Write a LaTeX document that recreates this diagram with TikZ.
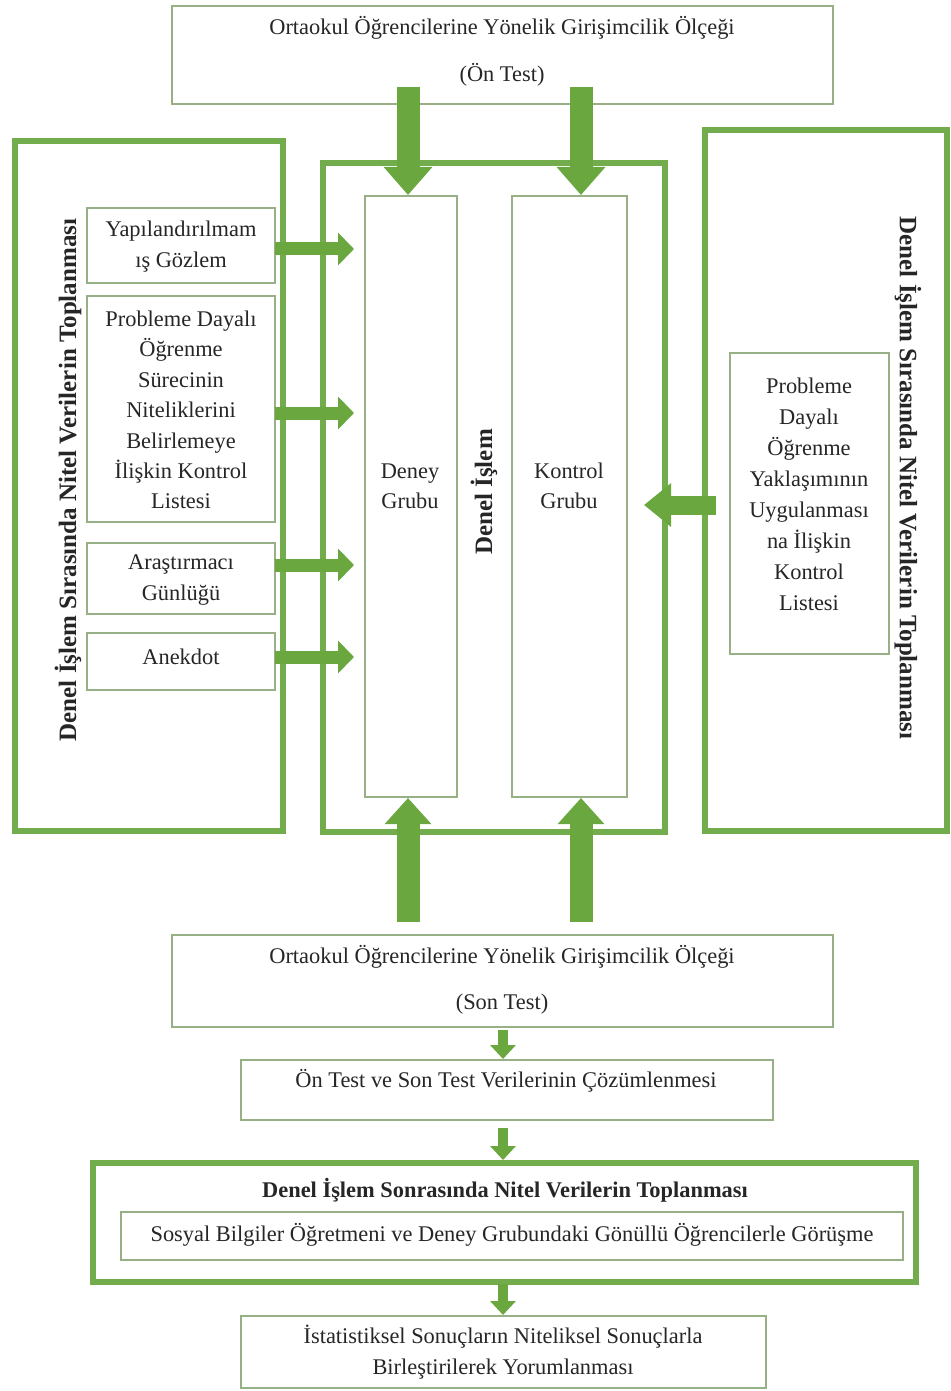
\documentclass[tikz,border=0pt]{standalone}
\usepackage{fontspec}
\setmainfont{Liberation Serif}
\usetikzlibrary{arrows.meta,fit}
\definecolor{gthick}{HTML}{72AC4D}
\definecolor{gthin}{HTML}{98B086}
\definecolor{garrow}{HTML}{6AA83F}
\begin{document}
\begin{tikzpicture}[x=0.5pt,y=-0.5pt,
  thinbox/.style={draw=gthin,line width=1pt,inner sep=0pt},
  thickbox/.style={draw=gthick,line width=3pt,inner sep=0pt},
  txt/.style={font=\fontsize{11.2}{15.2}\selectfont,align=center,inner sep=0pt,text=black!85},
  vtxt/.style={font=\fontsize{12.5}{15}\selectfont\bfseries,inner sep=0pt,text=black!85},
  bigv/.style={draw=garrow,line width=11.5pt,-{Triangle[width=23.5pt,length=14pt]}},
  sidearr/.style={draw=garrow,line width=6.5pt,-{Triangle[width=16pt,length=8pt]}},
  leftarr/.style={draw=garrow,line width=9.5pt,-{Triangle[width=21pt,length=13.5pt]}},
  smallarr/.style={draw=garrow,line width=5pt,-{Triangle[width=12.5pt,length=7pt]}}
]
\useasboundingbox (0,0) rectangle (951,1391);
\fill[white] (0,0) rectangle (951,1391);

% top box
\node[thinbox,fit={(172,6)(833,104)}] (top) {};
\node[txt] (toptA) at (502,28) {Ortaokul Öğrencilerine Yönelik Girişimcilik Ölçeği};
\node[txt] (toptB) at (502,75) {(Ön Test)};

% big boxes
\node[thickbox,fit={(15,141)(283,831)}] (leftbig) {};
\node[thickbox,fit={(323,163)(665,832)}] (centerbig) {};
\node[thickbox,fit={(705,130)(947,831)}] (rightbig) {};

\node[vtxt,rotate=90] (lefttitle) at (68,480) {Denel İşlem Sırasında Nitel Verilerin Toplanması};
\node[vtxt,rotate=-90] (righttitle) at (908,478) {Denel İşlem Sırasında Nitel Verilerin Toplanması};
\node[vtxt,rotate=90] (centertitle) at (484,492) {Denel İşlem};

% group boxes
\node[thinbox,fit={(365,196)(457,797)}] (deney) {};
\node[thinbox,fit={(512,196)(627,797)}] (kontrol) {};
\node[txt] (deneyt) at (410,486) {Deney\\Grubu};
\node[txt] (kontrolt) at (569,486) {Kontrol\\Grubu};

% left small boxes
\node[thinbox,fit={(87,208)(275,283)}] (yap) {};
\node[txt,font=\fontsize{11.2}{15.5}\selectfont] (yapt) at (181,247) {Yapılandırılmam\\ış Gözlem};
\node[thinbox,fit={(87,296)(275,522)}] (prob) {};
\node[txt] (probt) at (181,410) {Probleme Dayalı\\Öğrenme\\Sürecinin\\Niteliklerini\\Belirlemeye\\İlişkin Kontrol\\Listesi};
\node[thinbox,fit={(87,543)(275,614)}] (aras) {};
\node[txt] (arast) at (181,580) {Araştırmacı\\Günlüğü};
\node[thinbox,fit={(87,633)(275,690)}] (anek) {};
\node[txt] (anekt) at (181,657) {Anekdot};

% right small box
\node[thinbox,fit={(730,353)(889,654)}] (rbox) {};
\node[txt,font=\fontsize{11.2}{15.5}\selectfont] (rboxt) at (809,494) {Probleme\\Dayalı\\Öğrenme\\Yaklaşımının\\Uygulanması\\na İlişkin\\Kontrol\\Listesi};

% bottom box
\node[thinbox,fit={(172,935)(833,1027)}] (bot) {};
\node[txt] (botA) at (502,957) {Ortaokul Öğrencilerine Yönelik Girişimcilik Ölçeği};
\node[txt] (botB) at (502,1004) {(Son Test)};

\node[thinbox,fit={(241,1060)(773,1120)}] (coz) {};
\node[txt] (cozt) at (506,1081) {Ön Test ve Son Test Verilerinin Çözümlenmesi};

\node[thickbox,fit={(93,1163)(916,1282)}] (sonra) {};
\node[txt,font=\fontsize{11.2}{15}\selectfont\bfseries] (sonrat) at (505,1190) {Denel İşlem Sonrasında Nitel Verilerin Toplanması};
\node[thinbox,fit={(121,1212)(903,1260)}] (gor) {};
\node[txt] (gort) at (512,1235) {Sosyal Bilgiler Öğretmeni ve Deney Grubundaki Gönüllü Öğrencilerle Görüşme};

\node[thinbox,fit={(241,1316)(766,1388)}] (son) {};
\node[txt] (sont) at (503,1352) {İstatistiksel Sonuçların Niteliksel Sonuçlarla\\Birleştirilerek Yorumlanması};

% arrows top
\coordinate (t1) at (408,87);
\coordinate (t2) at (581,87);
\draw[bigv] (t1) -- (t1 |- deney.north);
\draw[bigv] (t2) -- (t2 |- kontrol.north);
% arrows bottom (up)
\coordinate (b1) at (408,922);
\coordinate (b2) at (581,922);
\draw[bigv,-{Triangle[width=22.5pt,length=13pt]}] (b1) -- (b1 |- deney.south);
\draw[bigv,-{Triangle[width=22.5pt,length=13pt]}] (b2) -- (b2 |- kontrol.south);

% side arrows
\coordinate (s1) at (275,249);
\coordinate (s2) at (275,413);
\coordinate (s3) at (275,565);
\coordinate (s4) at (275,657);
\draw[sidearr] (s1) -- ([xshift=-5pt]deney.west |- s1);
\draw[sidearr] (s2) -- ([xshift=-5pt]deney.west |- s2);
\draw[sidearr] (s3) -- ([xshift=-5pt]deney.west |- s3);
\draw[sidearr] (s4) -- ([xshift=-5pt]deney.west |- s4);

\coordinate (r1) at (716,505);
\draw[leftarr] (r1) -- ([xshift=8pt]kontrol.east |- r1);

% small arrows
\coordinate (m1) at (503,1030);
\draw[smallarr] (m1) -- (m1 |- coz.north);
\coordinate (m2) at (503,1128);
\draw[smallarr] (m2) -- (m2 |- sonra.north);
\coordinate (m3) at (503,1284);
\draw[smallarr] (m3) -- (m3 |- son.north);
\end{tikzpicture}
\end{document}
